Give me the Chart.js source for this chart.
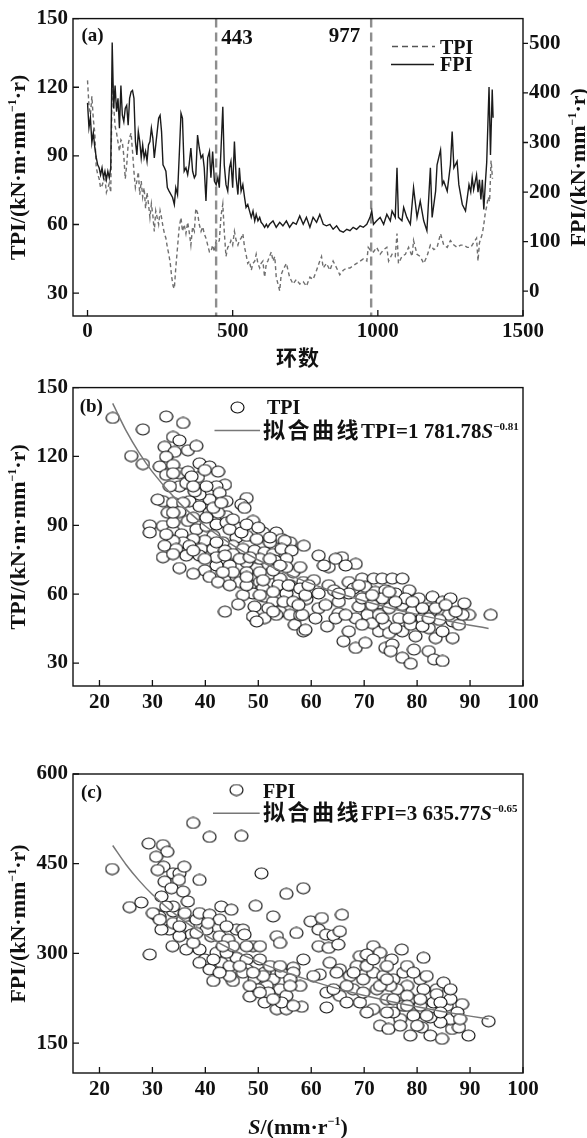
<!DOCTYPE html>
<html><head><meta charset="utf-8">
<script src="https://cdn.jsdelivr.net/npm/chart.js@4.4.1/dist/chart.umd.min.js"></script>
<style>
html,body{margin:0;padding:0;background:#fff;}
body{width:587px;height:1138px;position:relative;overflow:hidden;}
canvas{position:absolute;left:0;}
</style></head><body>
<canvas id="ca" width="587" height="370" style="top:0px"></canvas>
<canvas id="cb" width="587" height="350" style="top:370px"></canvas>
<canvas id="cc" width="587" height="418" style="top:720px"></canvas>
<script>
// ---------- Panel (a): ring number vs TPI / FPI ----------
const fpiRings = [0,5,10,15,20,25,30,35,40,45,50,55,60,65,70,75,80,85,90,95,100,105,110,115,120,125,130,135,140,145,150,155,160,165,170,175,180,185,190,195,200,205,210,215,220,225,230,235,240,245,250,255,260,265,270,275,
281,293,299,304,310,316,322,327,333,339,345,350,356,362,368,373,379,385,391,397,402,408,414,420,425,431,437,443,449,454,460,466,471,477,483,489,494,500,506,512,518,523,529,535,541,546,552,558,564,570,576,581,587,593,598,604,610,616,621,
627,639,650,662,673,685,696,708,719,731,743,754,766,777,789,800,812,823,835,846,858,869,881,893,904,915,927,939,950,962,973,979,
985,996,1008,1020,1031,1043,1049,1060,1066,1071,1083,1089,1100,1112,1123,1135,1146,1158,1169,1181,1187,1199,1204,1216,1222,1227,1239,1250,1256,1262,1273,1279,1291,1302,1314,
1320,1325,1330,1340,1345,1350,1355,1360,1365,1370,1375,1383,1388,1394,1397];
const fpiValues = [380,330,350,300,320,290,270,255,249,235,249,229,242,225,242,229,249,502,369,415,362,389,329,415,355,342,369,375,335,389,402,405,389,302,275,322,302,269,295,269,282,262,295,302,329,309,269,295,322,349,355,322,255,249,242,209,
202,189,175,209,195,275,359,349,242,249,235,255,289,242,229,235,315,289,269,275,249,182,269,282,229,282,222,215,229,209,289,372,255,215,202,249,262,209,302,229,195,249,202,215,189,169,175,162,149,162,142,155,142,149,139,135,129,135,129,
135,142,129,139,132,142,129,139,135,152,135,149,129,149,139,155,135,132,135,125,132,122,119,125,122,129,125,132,129,135,149,162,
135,142,149,135,155,142,162,149,249,149,142,169,149,135,209,149,182,142,122,249,149,202,255,285,215,222,202,255,322,249,262,215,175,162,215,
200,230,205,235,200,225,185,225,165,215,260,412,275,407,350];
const tpiRings = [0,5,10,15,20,25,30,35,40,45,50,55,60,65,70,75,80,85,90,95,100,105,110,115,120,125,130,135,140,145,150,155,160,165,170,175,180,185,190,195,200,205,210,215,220,225,230,235,240,245,250,255,260,265,270,275,280,285,290,295,
299,304,310,316,322,327,333,339,345,350,356,362,368,373,379,385,391,397,402,408,414,420,425,431,437,443,449,454,460,466,471,477,483,489,494,500,506,512,518,523,529,535,541,546,552,558,564,570,576,581,587,593,598,604,610,616,621,
627,633,639,645,650,656,662,667,673,685,696,708,719,731,743,754,766,777,789,800,806,812,823,835,846,858,869,881,893,904,915,927,939,950,962,967,973,
985,996,1008,1020,1031,1037,1049,1060,1066,1071,1083,1095,1106,1118,1123,1135,1146,1158,1169,1181,1193,1204,1216,1227,1239,1250,1262,1273,1285,1296,1308,
1320,1330,1340,1345,1350,1360,1365,1370,1375,1380,1385,1390,1395];
const tpiValues = [123,112,108,116,106,100,85,82,80,76,77,79,80,74,76,78,74,124,112,103,100,96,92,97,96,90,80,86,95,98,100,92,83,76,79,83,73,79,72,76,67,74,69,63,69,64,57,66,63,60,66,63,59,56,54,50,47,43,37,33,
32,41,50,59,63,57,60,56,61,57,51,59,57,67,65,60,57,59,56,54,51,48,48,51,48,53,52,53,64,69,57,46,50,51,53,51,57,53,51,53,54,56,50,47,43,44,40,43,44,47,43,41,43,44,37,43,44,
46,48,44,46,37,34,31,38,40,43,37,34,36,34,35,33,37,36,40,44,46,41,43,40,44,41,38,40,41,41,42,43,44,45,44,50,49,
48,50,47,49,50,44,47,46,56,43,46,47,50,46,53,47,46,43,46,51,49,50,56,51,50,53,51,50,51,51,50,
50,52,54,44,52,56,60,65,68,72,70,88,80];
const markerRings = [443, 977];
const ringTicks = [0, 500, 1000, 1500];
const tpiTicksA = [30, 60, 90, 120, 150];
const fpiTicksA = [0, 100, 200, 300, 400, 500];

// ---------- Panel (b): S vs TPI ----------
const tpiSpeed = [22.5,32.6,35.8,28.2,26.0,28.2,33.9,35.1,36.7,38.3,32.3,34.2,32.6,31.4,33.9,32.6,35.1,36.7,38.9,40.8,
42.4,38.6,35.1,36.4,43.7,42.1,42.7,40.8,38.9,37.0,32.0,33.9,35.8,47.8,46.8,47.4,32.9,35.1,38.9,40.8,
44.0,42.4,29.5,29.5,32.0,33.9,35.5,36.7,38.3,40.2,42.1,44.0,45.9,49.0,50.9,53.4,54.4,56.0,55.0,45.9,
47.8,49.7,45.2,43.3,41.5,39.9,37.7,35.8,33.9,32.3,34.5,37.0,39.2,41.5,43.7,47.1,45.2,49.3,51.2,52.8,
54.4,56.3,55.3,53.1,51.6,49.7,47.8,46.5,44.6,42.1,39.9,37.7,35.1,32.0,36.4,38.9,42.1,43.7,40.8,42.4,
45.9,46.5,48.4,50.3,52.2,54.1,56.6,57.9,58.5,53.8,50.9,49.0,47.1,51.2,55.3,52.8,46.2,43.7,49.3,51.9,
54.1,56.0,49.0,51.2,53.4,56.9,58.5,49.7,
44.6,46.8,52.2,50.3,48.4,52.8,55.3,47.8,45.2,50.3,56.0,52.8,54.8,47.8,44.6,39.9,33.9,32.6,37.7,40.2,33.3,33.9,41.5,38.0,44.0,
58.6,59.1,57.9,
31.0,33.9,37.4,39.9,37.7,43.0,40.2,45.2,47.8,50.0,52.2,42.1,37.7,33.9,52.2,54.1,43.3,47.8,50.3,56.6,52.8,55.7,57.9,50.9,
61.4,65.8,63.3,62.4,64.6,68.4,66.5,60.5,63.3,67.1,69.6,71.8,73.4,75.3,77.2,58.9,61.4,64.3,68.0,70.2,
72.1,74.0,75.9,78.5,80.3,82.9,84.8,86.3,88.9,89.8,93.9,61.4,65.2,65.2,69.0,70.6,72.8,74.7,76.6,77.2,
79.1,81.0,82.2,84.8,86.7,87.9,58.3,58.9,63.0,67.1,66.1,68.4,70.2,74.0,75.3,75.0,77.2,78.8,79.4,82.2,
83.2,84.8,83.5,86.7,79.7,77.2,72.8,71.5,74.0,78.8,82.2,84.8,86.0,81.0,77.8,73.4,69.6,67.1,71.5,75.9,
83.5,88.6,64.6,60.8,57.6,68.4,72.8,78.5,74.7,81.0,84.2,
59.5,62.7,66.5,69.6,73.4,75.9,79.1,82.2,85.4,87.3,71.5,74.7,69.0,65.2];
const tpiScatter = [136.8,137.4,134.6,131.8,120.2,116.7,128.5,127.0,122.7,124.6,124.2,122.0,119.9,115.6,116.3,112.0,112.7,113.4,117.0,115.6,
113.4,111.0,107.0,108.4,107.7,107.0,104.1,101.2,103.4,100.5,100.5,99.8,99.8,101.9,99.1,97.6,95.5,95.8,98.3,95.5,
94.0,95.5,90.0,86.9,89.7,87.6,86.1,91.9,88.3,89.7,90.4,91.2,89.0,91.9,86.9,86.9,84.0,82.6,83.3,84.7,
85.4,84.0,81.1,82.6,85.4,83.3,84.0,82.6,83.3,81.1,79.7,81.1,79.7,79.7,79.0,79.7,77.5,79.0,78.3,77.5,
79.7,79.0,75.4,74.7,72.5,71.4,73.9,75.4,72.5,72.5,70.4,68.9,71.4,76.1,76.8,76.8,76.1,76.8,67.5,65.3,
67.5,65.3,63.9,65.3,68.9,66.8,69.6,71.8,65.3,63.9,62.5,60.3,59.6,58.9,60.3,56.7,55.6,52.4,54.6,53.9,
52.4,51.0,50.3,49.6,51.0,46.7,43.8,48.1,
88.3,86.9,82.6,75.4,76.1,70.4,71.8,69.6,69.6,69.6,63.9,61.0,56.7,63.9,63.9,75.4,91.2,86.1,93.3,107.0,107.0,95.5,97.6,104.8,100.5,
81.1,57.9,50.8,
101.2,112.7,111.3,114.1,107.0,99.8,93.3,92.6,90.4,89.0,84.7,82.6,79.0,77.5,75.4,72.5,69.6,67.5,59.6,56.7,52.4,63.9,62.5,66.1,
76.8,76.1,71.8,72.5,75.4,73.2,72.5,66.1,63.9,65.3,66.8,66.8,66.8,66.8,66.8,59.6,60.3,61.7,62.5,63.2,
61.0,61.7,60.3,61.7,58.2,58.9,56.7,58.2,56.0,51.0,51.0,53.9,56.7,51.7,54.6,51.0,56.0,53.9,49.5,55.3,
52.4,49.5,53.9,51.0,48.1,46.7,51.0,44.5,46.0,43.8,39.5,36.6,38.8,36.6,38.1,35.2,32.3,29.7,35.9,35.2,
31.6,30.9,40.9,40.9,41.7,43.8,43.8,47.4,46.7,46.7,45.2,43.8,51.0,53.9,58.2,58.2,58.2,60.3,55.3,56.7,
53.9,51.0,49.5,49.5,55.3,49.5,51.0,49.5,43.1,46.0,48.8,
63.9,55.3,51.0,46.7,49.5,45.2,56.7,49.5,55.3,52.4,59.6,61.0,63.9,60.3];

// ---------- Panel (c): S vs FPI ----------
const fpiSpeed = [22.4,25.7,27.9,29.5,29.3,32.0,32.8,30.7,32.1,31.0,33.9,35.1,36.0,35.0,32.3,33.6,35.8,36.7,38.9,37.7,
40.8,46.8,50.6,55.3,58.5,49.5,52.8,31.7,30.7,31.3,33.9,33.2,33.9,35.8,36.7,38.3,38.9,40.8,42.7,43.0,
44.9,45.9,47.1,47.4,49.0,50.3,53.5,54.1,57.2,58.5,33.8,36.4,38.9,41.1,40.2,42.7,44.3,39.9,40.8,43.0,
44.6,45.9,47.8,47.8,41.5,45.2,47.1,49.3,51.2,52.8,54.4,56.6,51.6,54.1,50.0,48.4,51.2,53.5,55.3,58.2,
57.9,55.3,56.6,30.1,31.7,37.4,35.1,37.7,42.1,44.0,44.6,42.7,38.9,50.3,52.2,48.4,51.9,54.4,56.6,50.9,54.1,56.0,
33.9,36.1,40.5,44.0,45.2,47.8,43.3,41.5,46.5,49.0,50.3,52.8,56.0,38.3,35.1,32.6,31.4,
59.9,62.0,61.4,62.8,64.2,65.8,65.4,61.4,63.3,65.1,61.6,63.5,65.4,67.3,69.2,71.7,70.5,73.0,75.2,77.1,
81.2,62.9,65.4,67.9,64.2,69.8,71.7,73.6,75.5,77.4,78.1,80.6,81.8,83.7,85.0,69.2,71.7,74.3,76.2,78.7,
80.6,83.1,85.6,88.5,93.5,73.0,74.6,76.8,78.7,80.9,82.5,84.7,86.6,87.9,89.7,86.3,84.4,82.5,79.3,75.5,
70.5,77.4,86.3,83.7,81.2,78.1,74.9,72.4,69.8,66.7,62.9,60.4,68.6,74.3,78.1,86.3,84.4,87.6,74.3,
70.5,73.0,75.5,78.1,80.6,81.8,84.4,88.1,76.8,80.0,74.3,79.3,71.7,68.0,64.8,66.7];
const fpiScatter = [441.1,377.4,385.2,298.2,483.7,481.0,469.9,461.6,445.0,439.4,433.9,433.9,445.0,422.8,420.0,409.0,403.4,386.8,422.8,518.1,
494.8,496.5,433.9,399.6,409.0,379.6,361.9,395.1,364.7,361.9,370.2,339.8,350.8,356.4,345.3,356.4,367.4,364.7,356.4,378.5,
373.0,339.8,339.8,331.5,312.1,312.1,328.7,317.6,334.2,289.9,312.1,306.5,306.5,328.7,339.8,328.7,323.1,289.9,273.3,284.4,
278.9,292.7,289.9,273.3,253.9,253.9,267.8,256.7,267.8,256.7,267.8,276.1,245.6,240.1,240.1,227.9,217.9,206.9,206.9,210.7,
245.6,229.0,267.8,367.4,339.8,331.5,328.7,317.6,301.0,301.0,262.2,267.8,284.4,289.9,278.9,245.6,234.5,217.9,212.4,262.2,278.9,256.7,
378.5,367.4,350.8,345.3,312.1,312.1,312.1,289.9,278.9,267.8,234.5,223.5,245.6,334.2,345.3,378.5,356.4,
353.6,359.1,339.8,331.5,330.3,364.7,337.0,312.1,309.3,314.8,265.0,284.4,273.3,262.2,295.5,312.1,298.2,301.0,289.9,306.5,
292.7,234.5,229.0,240.1,240.1,256.7,267.8,262.2,256.7,267.8,245.6,256.7,262.2,240.1,251.2,217.9,206.9,223.5,240.1,223.5,
212.4,217.9,212.4,215.2,186.4,179.2,173.6,190.3,162.6,176.4,162.6,157.1,173.6,176.4,162.6,190.3,184.7,193.0,195.8,201.3,
201.3,212.4,223.5,231.8,240.1,229.0,245.6,240.1,234.5,217.9,209.6,262.2,278.9,278.9,278.9,240.1,217.9,201.3,201.3,
278.9,245.6,223.5,212.4,223.5,195.8,201.3,190.3,179.2,179.2,256.7,267.8,289.9,267.8,267.8,245.6];

// fitted curves
const fitSpeed = [22.5,25,27.5,30,35,40,45,50,55,60,65,70,75,80,85,90,93.5];
const fitTPI = [143.1,131.4,121.6,113.3,100.0,89.7,81.6,74.9,69.3,64.6,60.6,57.0,53.9,51.2,48.7,46.5,45.1];
const fitFPI = [480.4,448.7,421.7,398.5,360.6,330.5,306.2,285.9,268.8,254.0,241.1,229.7,219.7,210.7,202.5,195.1,190.4];
const speedTicks = [20, 30, 40, 50, 60, 70, 80, 90, 100];
const tpiTicksB = [30, 60, 90, 120, 150];
const fpiTicksC = [150, 300, 450, 600];

// ---------- helpers ----------
const SERIF = '"Liberation Serif","Times New Roman",serif';
const CJK = '"Noto Sans CJK SC","Noto Sans CJK JP",sans-serif';
const INK = '#111';

function rich(ctx, segs, x, yc, rot, align, baseSize) {
  const fontOf = s => `${s.italic ? 'italic ' : ''}bold ${s.size}px ${s.family || SERIF}`;
  let total = 0;
  const widths = segs.map(s => {
    ctx.font = fontOf(s);
    let w;
    if (s.gap) { w = 0; for (const ch of s.t) w += ctx.measureText(ch).width + s.gap; }
    else w = ctx.measureText(s.t).width;
    total += w;
    return w;
  });
  ctx.save();
  ctx.translate(x, yc);
  if (rot) ctx.rotate(rot);
  ctx.fillStyle = INK; ctx.textAlign = 'left'; ctx.textBaseline = 'alphabetic';
  let cx = align === 'center' ? -total / 2 : (align === 'right' ? -total : 0);
  const base = baseSize * 0.34;
  segs.forEach((s, i) => {
    ctx.font = fontOf(s);
    const by = base + (s.dy || 0);
    if (s.gap) { for (const ch of s.t) { ctx.fillText(ch, cx, by); cx += ctx.measureText(ch).width + s.gap; } }
    else { ctx.fillText(s.t, cx, by); cx += widths[i]; }
  });
  ctx.restore();
}

function makeMarker() {
  const c = document.createElement('canvas');
  c.width = 15; c.height = 13;
  const g = c.getContext('2d');
  g.beginPath(); g.ellipse(7.5, 6.5, 6.5, 5.5, 0, 0, Math.PI * 2);
  g.fillStyle = '#fff'; g.fill();
  g.lineWidth = 1.15; g.strokeStyle = INK; g.stroke();
  return c;
}
const marker = makeMarker();

function axis(o) {
  return {
    type: 'linear', position: o.position, min: o.min, max: o.max,
    afterBuildTicks: s => { s.ticks = o.ticks.map(v => ({ value: v })); },
    afterFit: s => { if (s.isHorizontal()) s.height = o.size; else s.width = o.size; },
    grid: { display: false, drawTicks: false }, border: { display: false },
    ticks: { font: { family: SERIF, size: 21, weight: 'bold' }, color: INK, padding: o.pad,
             autoSkip: false, maxRotation: 0, callback: v => String(v) }
  };
}

function framePlugin(dirs) {
  return { id: 'frame', afterDatasetsDraw(chart) {
    const { ctx, chartArea: a } = chart;
    ctx.save(); ctx.strokeStyle = INK; ctx.lineWidth = 1.4;
    ctx.strokeRect(a.left, a.top, a.right - a.left, a.bottom - a.top);
    ctx.beginPath(); ctx.lineWidth = 1.3;
    for (const id in dirs) {
      const s = chart.scales[id], d = dirs[id];
      s.ticks.forEach(t => {
        const p = s.getPixelForValue(t.value);
        if (s.isHorizontal()) { ctx.moveTo(p, a.bottom); ctx.lineTo(p, a.bottom + (d === 'in' ? -6 : 4)); }
        else if (s.position === 'left') { ctx.moveTo(a.left, p); ctx.lineTo(a.left + (d === 'in' ? 6 : -4), p); }
        else { ctx.moveTo(a.right, p); ctx.lineTo(a.right + (d === 'in' ? -6 : 5), p); }
      });
    }
    ctx.stroke(); ctx.restore();
  }};
}

const common = { responsive: false, animation: false, devicePixelRatio: 1, events: [],
  plugins: { legend: { display: false }, tooltip: { enabled: false } } };

function sup(t, size) { return { t: t, size: size || 12, dy: -9 }; }

// ---------- Chart (a) ----------
new Chart(document.getElementById('ca'), {
  type: 'line',
  data: { datasets: [
    { data: fpiRings.map((r, i) => ({ x: r, y: fpiValues[i] })), yAxisID: 'y2', borderColor: '#1b1b1b', borderWidth: 1.4, pointRadius: 0, tension: 0, order: 0 },
    { data: tpiRings.map((r, i) => ({ x: r, y: tpiValues[i] })), yAxisID: 'y', borderColor: '#6f6f6f', borderWidth: 1.4, borderDash: [4, 3], pointRadius: 0, tension: 0, order: 1 }
  ]},
  options: Object.assign({}, common, {
    layout: { padding: { top: 16, left: 0, right: 0, bottom: 0 } },
    scales: {
      x: axis({ position: 'bottom', min: -50, max: 1500, ticks: ringTicks, size: 54, pad: 3 }),
      y: axis({ position: 'left', min: 20, max: 150, ticks: tpiTicksA, size: 73, pad: 5 }),
      y2: axis({ position: 'right', min: -50, max: 550, ticks: fpiTicksA, size: 64, pad: 6 })
    }
  }),
  plugins: [framePlugin({ x: 'in', y: 'in', y2: 'out' }), {
    id: 'decorA',
    beforeDatasetsDraw(chart) {
      const { ctx, chartArea: a } = chart, xs = chart.scales.x;
      ctx.save(); ctx.strokeStyle = '#8e8e8e'; ctx.lineWidth = 2.4; ctx.setLineDash([9, 5]);
      markerRings.forEach(r => { const p = xs.getPixelForValue(r); ctx.beginPath(); ctx.moveTo(p, a.top); ctx.lineTo(p, a.bottom); ctx.stroke(); });
      ctx.restore();
    },
    afterDraw(chart) {
      const { ctx, chartArea: a } = chart, xs = chart.scales.x;
      rich(ctx, [{ t: '(a)', size: 19 }], 81.5, 35, 0, 'left', 19);
      rich(ctx, [{ t: String(markerRings[0]), size: 21 }], xs.getPixelForValue(markerRings[0]) + 5, 36.5, 0, 'left', 21);
      rich(ctx, [{ t: String(markerRings[1]), size: 21 }], xs.getPixelForValue(markerRings[1]) - 11, 35, 0, 'right', 21);
      ctx.save();
      ctx.strokeStyle = '#555'; ctx.lineWidth = 1.5; ctx.setLineDash([6, 4]);
      ctx.beginPath(); ctx.moveTo(392, 46.5); ctx.lineTo(435, 46.5); ctx.stroke();
      ctx.setLineDash([]); ctx.strokeStyle = '#1b1b1b';
      ctx.beginPath(); ctx.moveTo(391, 64.5); ctx.lineTo(434, 64.5); ctx.stroke();
      ctx.restore();
      rich(ctx, [{ t: 'TPI', size: 20 }], 440, 47, 0, 'left', 20);
      rich(ctx, [{ t: 'FPI', size: 20 }], 440, 64.5, 0, 'left', 20);
      const cy = (a.top + a.bottom) / 2;
      rich(ctx, [{ t: 'TPI/(kN·m·mm', size: 22 }, sup('−1'), { t: '·r)', size: 22 }], 17.5, cy, -Math.PI / 2, 'center', 22);
      rich(ctx, [{ t: 'FPI/(kN·mm', size: 22 }, sup('−1'), { t: '·r)', size: 22 }], 577.5, cy, -Math.PI / 2, 'center', 22);
      rich(ctx, [{ t: '环数', size: 21, family: CJK, gap: 1 }], (a.left + a.right) / 2, 358, 0, 'center', 21);
    }
  }]
});

// ---------- Chart (b) ----------
new Chart(document.getElementById('cb'), {
  type: 'scatter',
  data: { datasets: [
    { type: 'line', data: fitSpeed.map((s, i) => ({ x: s, y: fitTPI[i] })), borderColor: '#777', borderWidth: 1.5, pointRadius: 0, cubicInterpolationMode: 'monotone', fill: false, order: 0 },
    { data: tpiSpeed.map((s, i) => ({ x: s, y: tpiScatter[i] })), pointStyle: marker, pointRadius: 7, order: 1 }
  ]},
  options: Object.assign({}, common, {
    layout: { padding: { top: 16, left: 0, right: 64, bottom: 0 } },
    scales: {
      x: axis({ position: 'bottom', min: 15, max: 100, ticks: speedTicks, size: 34, pad: 4 }),
      y: axis({ position: 'left', min: 20, max: 150, ticks: tpiTicksB, size: 73, pad: 5 })
    }
  }),
  plugins: [framePlugin({ x: 'in', y: 'in' }), {
    id: 'decorB',
    afterDraw(chart) {
      const { ctx, chartArea: a } = chart;
      rich(ctx, [{ t: '(b)', size: 19 }], 79.7, 36, 0, 'left', 19);
      ctx.drawImage(marker, 237.5 - 7.5, 37.5 - 6.5);
      rich(ctx, [{ t: 'TPI', size: 20 }], 267, 37.5, 0, 'left', 20);
      ctx.save(); ctx.strokeStyle = '#777'; ctx.lineWidth = 1.5;
      ctx.beginPath(); ctx.moveTo(214.5, 60.5); ctx.lineTo(260, 60.5); ctx.stroke(); ctx.restore();
      rich(ctx, [{ t: '拟合曲线', size: 22, family: CJK, gap: 2.5 }, { t: 'TPI=1 781.78', size: 21 }, { t: 'S', size: 21, italic: true },
                 { t: '−0.81', size: 11, dy: -8 }], 263, 60.5, 0, 'left', 21);
      rich(ctx, [{ t: 'TPI/(kN·m·mm', size: 22 }, sup('−1'), { t: '·r)', size: 22 }], 17.5, (a.top + a.bottom) / 2, -Math.PI / 2, 'center', 22);
    }
  }]
});

// ---------- Chart (c) ----------
new Chart(document.getElementById('cc'), {
  type: 'scatter',
  data: { datasets: [
    { type: 'line', data: fitSpeed.map((s, i) => ({ x: s, y: fitFPI[i] })), borderColor: '#777', borderWidth: 1.5, pointRadius: 0, cubicInterpolationMode: 'monotone', fill: false, order: 0 },
    { data: fpiSpeed.map((s, i) => ({ x: s, y: fpiScatter[i] })), pointStyle: marker, pointRadius: 7, order: 1 }
  ]},
  options: Object.assign({}, common, {
    layout: { padding: { top: 54, left: 0, right: 64, bottom: 0 } },
    scales: {
      x: axis({ position: 'bottom', min: 15, max: 100, ticks: speedTicks, size: 65, pad: 4 }),
      y: axis({ position: 'left', min: 100, max: 600, ticks: fpiTicksC, size: 73, pad: 5 })
    }
  }),
  plugins: [framePlugin({ x: 'in', y: 'in' }), {
    id: 'decorC',
    afterDraw(chart) {
      const { ctx, chartArea: a } = chart;
      rich(ctx, [{ t: '(c)', size: 19 }], 81, 72, 0, 'left', 19);
      ctx.drawImage(marker, 236.5 - 7.5, 70 - 6.5);
      rich(ctx, [{ t: 'FPI', size: 20 }], 263, 71, 0, 'left', 20);
      ctx.save(); ctx.strokeStyle = '#777'; ctx.lineWidth = 1.5;
      ctx.beginPath(); ctx.moveTo(213, 93.3); ctx.lineTo(259.7, 93.3); ctx.stroke(); ctx.restore();
      rich(ctx, [{ t: '拟合曲线', size: 22, family: CJK, gap: 2.5 }, { t: 'FPI=3 635.77', size: 21 }, { t: 'S', size: 21, italic: true },
                 { t: '−0.65', size: 11, dy: -8 }], 263, 93, 0, 'left', 21);
      rich(ctx, [{ t: 'FPI/(kN·mm', size: 22 }, sup('−1'), { t: '·r)', size: 22 }], 17.5, (a.top + a.bottom) / 2, -Math.PI / 2, 'center', 22);
      rich(ctx, [{ t: 'S', size: 22, italic: true }, { t: '/(mm·r', size: 22 }, sup('−1'), { t: ')', size: 22 }], (a.left + a.right) / 2, 407, 0, 'center', 22);
    }
  }]
});
</script>
</body></html>
